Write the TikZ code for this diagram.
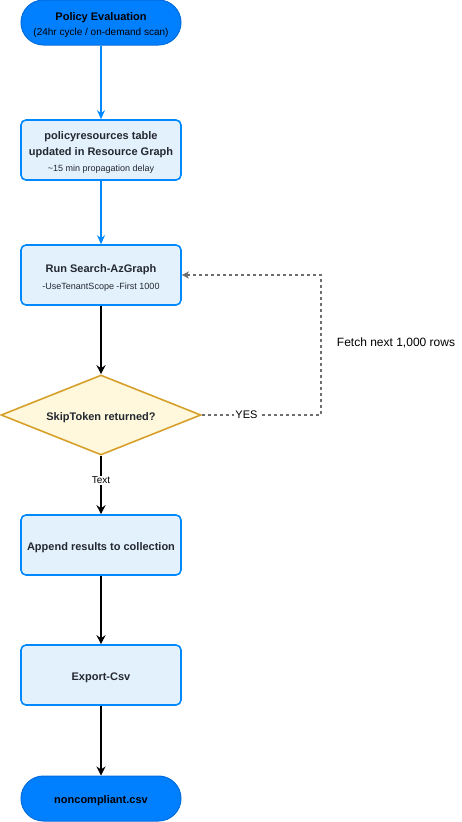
\documentclass[tikz,border=0pt]{standalone}
\usepackage{fontspec}
\setmainfont{Liberation Sans}
\usetikzlibrary{arrows.meta,shapes.geometric}
\definecolor{termblue}{RGB}{0,127,255}
\definecolor{termline}{RGB}{0,108,220}
\definecolor{boxfill}{RGB}{227,241,252}
\definecolor{boxline}{RGB}{0,136,255}
\definecolor{decfill}{RGB}{255,248,221}
\definecolor{decline}{RGB}{214,160,42}
\definecolor{txtdark}{RGB}{35,40,48}
\definecolor{loopgray}{RGB}{110,110,110}
\newcommand{\headtxt}{\fontsize{11}{16}\selectfont\bfseries\rule{0pt}{13pt}}
\newcommand{\subtxt}{\fontsize{9}{16}\selectfont}

\begin{document}
\begin{tikzpicture}[x=1pt,y=1pt,yscale=-1,xscale=1,
  term/.style={rectangle,rounded corners=22.5pt,draw=termline,line width=1pt,fill=termblue,
    minimum width=160pt,minimum height=45pt,inner sep=0pt,align=center,text=black,
    font=\fontsize{11}{16}\selectfont},
  procbox/.style={rectangle,rounded corners=5pt,draw=boxline,line width=1.6pt,fill=boxfill,
    minimum width=160pt,minimum height=60pt,inner sep=0pt,align=center,text=txtdark,
    font=\fontsize{11}{16}\selectfont},
  decbox/.style={diamond,shape aspect=2.5,draw=decline,line width=1.6pt,fill=decfill,
    minimum width=200pt,minimum height=80pt,inner sep=0pt,align=center,text=txtdark},
  blueflow/.style={draw=boxline,line width=1.5pt,-{Stealth[length=9pt,width=8pt,inset=3pt]}},
  flow/.style={draw=black,line width=1.8pt,-{Stealth[length=9pt,width=9pt,inset=3pt]}},
  loop/.style={draw=loopgray,line width=1.3pt,dash pattern=on 3pt off 3pt,-{Stealth[length=7pt,width=7pt,inset=2pt]}},
  lbl/.style={fill=white,inner sep=1pt,font=\fontsize{11}{13}\selectfont,text=black}]
%set diagram size
\useasboundingbox (0,0) rectangle (461,822);

%Shape: Terminator [policy evaluation]
\node[term] (policy) at (101,22.5) {{\headtxt Policy Evaluation}\\[-1pt]{\fontsize{10}{12}\selectfont (24hr cycle / on-demand scan)}};
%Shape: Rectangle [resource graph]
\node[procbox] (graph) at (101,150) {{\headtxt policyresources table}\\{\headtxt updated in Resource Graph}\\{\subtxt \textasciitilde 15 min propagation delay}};
%Shape: Rectangle [search]
\node[procbox] (search) at (101,275) {{\headtxt Run Search-AzGraph}\\[1pt]{\subtxt -UseTenantScope -First 1000}};
%Shape: Diamond [skiptoken]
\node[decbox] (skip) at (101,415) {\headtxt SkipToken returned?};
%Shape: Rectangle [append]
\node[procbox] (append) at (101,545) {\headtxt Append results to collection};
%Shape: Rectangle [export]
\node[procbox] (export) at (101,675) {\headtxt Export-Csv};
%Shape: Terminator [csv]
\node[term] (csv) at (101,798.5) {\headtxt noncompliant.csv};

%Text: loop note
\node[font=\fontsize{12}{14}\selectfont,text=black] (fetch) at (396,343) {Fetch next 1,000 rows};
\coordinate (loopc) at (321,415);

%Straight Lines
\draw[blueflow] (policy) -- (graph);
\draw[blueflow] (graph) -- (search);
\draw[flow] (search) -- (skip);
\draw[flow] (skip) -- node[lbl,font=\fontsize{10}{12}\selectfont,pos=0.42] {Text} (append);
\draw[flow] (append) -- (export);
\draw[flow] (export) -- (csv);
%Dashed loop back
\draw[loop] (skip.east) -- node[lbl,pos=0.375] {YES} (loopc) |- (search.east);

\end{tikzpicture}
\end{document}
